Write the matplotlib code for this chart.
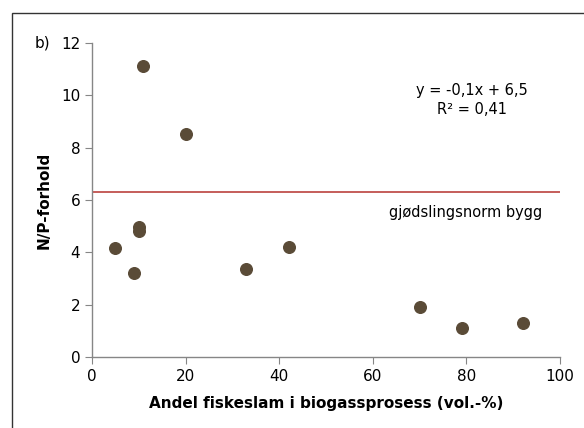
import matplotlib.pyplot as plt
from matplotlib.patches import Rectangle

# andel fiskeslam (vol.-%) og N/P-forhold
andel = [5, 9, 10, 10, 11, 20, 33, 42, 70, 79, 92]
np_forhold = [4.15, 3.2, 4.95, 4.8, 11.1, 8.5, 3.35, 4.2, 1.9, 1.1, 1.3]
norm_bygg = 6.3

x_ticks = [0, 20, 40, 60, 80, 100]
y_ticks = [0, 2, 4, 6, 8, 10, 12]

plt.rcParams['font.family'] = ['DejaVu Sans']

fig = plt.figure(figsize=(5.84, 4.28), dpi=100)
ax = fig.add_axes([0.1575, 0.166, 0.8015, 0.734])

# ytre ramme
fig.patches.append(Rectangle((12 / 584, -0.5), 2.0, 0.5 + 1 - 13 / 428,
                             transform=fig.transFigure, fill=False,
                             edgecolor='#333333', linewidth=1.0))

ax.axhline(norm_bygg, color='#c0504d', linewidth=1.3, xmin=0, xmax=1)
ax.scatter(andel, np_forhold, s=70, color='#5a4b37', zorder=3)

ax.set_xlim(0, 100)
ax.set_ylim(0, 12)
ax.set_xticks(x_ticks)
ax.set_yticks(y_ticks)

for side in ['top', 'right']:
    ax.spines[side].set_visible(False)
for side in ['left', 'bottom']:
    ax.spines[side].set_color('#868686')
    ax.spines[side].set_linewidth(1.0)
ax.tick_params(colors='#868686', labelcolor='black', labelsize=11, length=5, direction='out')

ax.set_xlabel('Andel fiskeslam i biogassprosess (vol.-%)', fontsize=11, fontweight='bold', labelpad=9)
ax.set_ylabel('N/P-forhold', fontsize=11, fontweight='bold', labelpad=7)

ax.text(81.2, 9.8, 'y = -0,1x + 6,5\nR² = 0,41', ha='center', va='center', fontsize=10.5, linespacing=1.35)
ax.text(79.8, 5.5, 'gjødslingsnorm bygg', ha='center', va='center', fontsize=10.5)
fig.text(42 / 584, 1 - 43 / 428, 'b)', ha='center', va='center', fontsize=11)

fig.savefig('out.png', dpi=100)
